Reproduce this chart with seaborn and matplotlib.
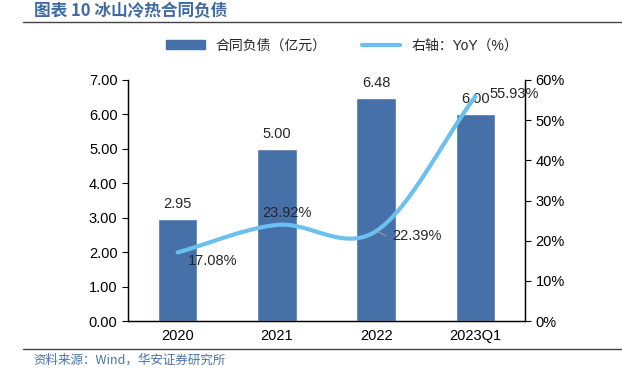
import numpy as np
import pandas as pd
import matplotlib
matplotlib.use('Agg')
import matplotlib.pyplot as plt
from matplotlib.patches import Patch
from matplotlib.lines import Line2D
import seaborn as sns

# Datos
periodos = ['2020', '2021', '2022', '2023Q1']
pasivos = [2.95, 5.00, 6.48, 6.00]          # 合同负债（亿元）
yoy = [17.08, 23.92, 22.39, 55.93]          # YoY (%)

sns.set_style('white')
plt.rcParams['font.family'] = ['Liberation Sans', 'Noto Sans CJK SC', 'DejaVu Sans']

color_barra = '#4571a8'
color_linea = '#6cc0ef'

fig = plt.figure(figsize=(6.22, 3.77), dpi=100)
ax = fig.add_axes([0.2058, 0.1485, 0.6383, 0.6393])

df = pd.DataFrame({'periodo': periodos, 'valor': pasivos})
sns.barplot(data=df, x='periodo', y='valor', color=color_barra, width=0.4,
            saturation=1, ax=ax)
ax.set_xlim(-0.5, 3.5)
ax.set_ylim(0, 7)
ax.set_yticks(np.arange(0, 7.01, 1))
ax.set_yticklabels([f'{v:.2f}' for v in np.arange(0, 7.01, 1)])
ax.set_xlabel('')
ax.set_ylabel('')
ax.tick_params(axis='both', labelsize=10.5, colors='black')
ax.tick_params(axis='y', direction='out', length=4, width=0.8, left=True)
ax.tick_params(axis='x', length=0, pad=6)

for i, v in enumerate(pasivos):
    ax.annotate(f'{v:.2f}', (i, v), xytext=(0, 11), textcoords='offset points',
                ha='center', va='center', fontsize=10.5)

# Eje derecho: curva suavizada (Catmull-Rom) por los puntos de YoY
ax2 = ax.twinx()
xs = np.arange(len(yoy), dtype=float)
ys = np.array(yoy)
px = np.concatenate([[2 * xs[0] - xs[1]], xs, [2 * xs[-1] - xs[-2]]])
py = np.concatenate([[2 * ys[0] - ys[1]], ys, [2 * ys[-1] - ys[-2]]])
cx, cy = [], []
t = np.linspace(0, 1, 40)
for k in range(1, len(px) - 2):
    for arr, out in ((px, cx), (py, cy)):
        p0, p1, p2, p3 = arr[k - 1], arr[k], arr[k + 1], arr[k + 2]
        out.extend(0.5 * ((2 * p1) + (-p0 + p2) * t +
                          (2 * p0 - 5 * p1 + 4 * p2 - p3) * t ** 2 +
                          (-p0 + 3 * p1 - 3 * p2 + p3) * t ** 3))
curva = pd.DataFrame({'x': cx, 'y': cy})
sns.lineplot(data=curva, x='x', y='y', sort=False, color=color_linea,
             linewidth=3, ax=ax2)
ax2.set_ylim(0, 60)
ax2.set_yticks(np.arange(0, 61, 10))
ax2.set_yticklabels([f'{v}%' for v in range(0, 61, 10)])
ax2.set_xlabel('')
ax2.set_ylabel('')
ax2.tick_params(axis='y', direction='out', length=4, width=0.8, right=True,
                labelsize=10.5, colors='black')

for a in (ax, ax2):
    a.spines['top'].set_visible(False)
    for s in ('left', 'right', 'bottom'):
        a.spines[s].set_color('black')
        a.spines[s].set_linewidth(0.9)

offsets = [(25, -6.2), (7, 8.6), (29.5, -3.6), (28, 1.5)]
for i, (v, off) in enumerate(zip(yoy, offsets)):
    ax2.annotate(f'{v:.2f}%', (i, v), xytext=off, textcoords='offset points',
                 ha='center', va='center', fontsize=10.5)
ax2.plot([2.02, 2.1], [22.2, 21.2], color='#999999', linewidth=0.8)

# Leyenda
handles = [Patch(color=color_barra), Line2D([0], [0], color=color_linea, linewidth=3)]
fig.legend(handles, ['合同负债（亿元）', '右轴：YoY（%）'], loc='center',
           bbox_to_anchor=(0.55, 0.88), ncol=2, frameon=False,
           handlelength=2.8, handleheight=0.6, columnspacing=2.5,
           prop={'family': ['Liberation Sans', 'Noto Sans CJK SC', 'DejaVu Sans'], 'size': 10})

# Titulo y fuente
fig.text(0.055, 0.972, '图表 10 冰山冷热合同负债', ha='left', va='center',
         fontsize=12, fontweight='bold', color='#3f6aa6',
         family=['Noto Sans CJK SC', 'DejaVu Sans'])
fig.add_artist(Line2D([0.037, 1.0], [0.942, 0.942], color='#444444', linewidth=1))
fig.add_artist(Line2D([0.037, 1.0], [0.074, 0.074], color='#444444', linewidth=1))
fig.text(0.053, 0.045, '资料来源：Wind，华安证券研究所', ha='left', va='center',
         fontsize=9, color='#4a73a8', family=['Noto Sans CJK SC', 'DejaVu Sans'])

plt.savefig('out.png', dpi=100)
